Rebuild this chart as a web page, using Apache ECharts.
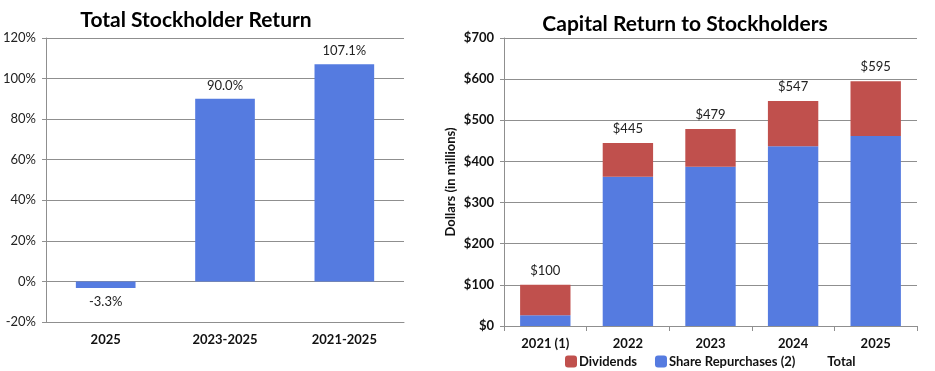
<!DOCTYPE html>
<html>
<head>
<meta charset="utf-8">
<script src="https://cdn.jsdelivr.net/npm/echarts@6/dist/echarts.min.js"></script>
<style>
html,body{margin:0;padding:0;background:#fff;}
#c{width:935px;height:371px;}
</style>
</head>
<body>
<div id="c"></div>
<script>
// Left chart data
var tsrCategories = ['2025', '2023-2025', '2021-2025'];
var tsrValues = [-3.3, 90.0, 107.1];
var tsrTicks = [-20, 0, 20, 40, 60, 80, 100, 120];

// Right chart data
var capCategories = ['2021 (1)', '2022', '2023', '2024', '2025'];
var dividends = [74, 82, 92, 110, 133];
var repurchases = [26, 363, 387, 437, 462];
var totals = [100, 445, 479, 547, 595];
var capTicks = [0, 100, 200, 300, 400, 500, 600, 700];

var FONT = 'Lato, "Noto Sans", sans-serif';
var BLUE = '#557BE0';
var RED = '#C0504D';
var GRID = '#8f8f8f';

var chart = echarts.init(document.getElementById('c'), null, {renderer: 'canvas'});
chart.setOption({
  animation: false,
  textStyle: {fontFamily: FONT},
  title: [
    {text: 'Total Stockholder Return', left: 191, top: 5, textAlign: 'center',
     textStyle: {fontFamily: FONT, fontSize: 21, fontWeight: 'bold', color: '#000'}},
    {text: 'Capital Return to Stockholders', left: 680, top: 9, textAlign: 'center',
     textStyle: {fontFamily: FONT, fontSize: 21, fontWeight: 'bold', color: '#000'}}
  ],
  legend: {
    left: 560, top: 350,
    itemWidth: 12, itemHeight: 12, itemGap: 18,
    textStyle: {fontFamily: FONT, fontSize: 13, fontWeight: 'bold', color: '#111', padding: [0,0,0,-3]},
    data: [
      {name: 'Dividends', itemStyle: {color: RED}},
      {name: 'Share Repurchases (2)', itemStyle: {color: BLUE}},
      {name: 'Total', itemStyle: {color: 'rgba(0,0,0,0)'}}
    ]
  },
  grid: [
    {left: 46, top: 38, width: 358, height: 284},
    {left: 504, top: 38, width: 413, height: 288}
  ],
  xAxis: [
    {type: 'category', gridIndex: 0, data: tsrCategories,
     axisLine: {onZero: false, lineStyle: {color: GRID}},
     axisTick: {show: false},
     axisLabel: {margin: 11, fontFamily: FONT, fontSize: 13, fontWeight: 'bold', color: '#111'}},
    {type: 'category', gridIndex: 1, data: capCategories,
     axisLine: {lineStyle: {color: GRID}},
     axisTick: {show: true, length: 5, lineStyle: {color: GRID}},
     axisLabel: {margin: 11, fontFamily: FONT, fontSize: 13, fontWeight: 'bold', color: '#111'}}
  ],
  yAxis: [
    {type: 'value', gridIndex: 0, min: tsrTicks[0], max: tsrTicks[tsrTicks.length-1], interval: 20,
     axisLine: {show: true, lineStyle: {color: GRID}},
     axisTick: {show: true, length: 4, lineStyle: {color: GRID}},
     splitLine: {lineStyle: {color: GRID}},
     axisLabel: {margin: 10, fontFamily: FONT, fontSize: 13, color: '#222', formatter: '{value}%'}},
    {type: 'value', gridIndex: 1, min: capTicks[0], max: capTicks[capTicks.length-1], interval: 100,
     name: 'Dollars (in millions)', nameLocation: 'middle', nameGap: 47, nameRotate: 90,
     nameTextStyle: {fontFamily: FONT, fontSize: 13, fontWeight: 'bold', color: '#111'},
     axisLine: {show: true, lineStyle: {color: GRID}},
     axisTick: {show: true, length: 4, lineStyle: {color: GRID}},
     splitLine: {lineStyle: {color: GRID}},
     axisLabel: {margin: 10, fontFamily: FONT, fontSize: 13, fontWeight: 'bold', color: '#111', formatter: '${value}'}}
  ],
  series: [
    {type: 'bar', name: 'TSR', xAxisIndex: 0, yAxisIndex: 0, data: tsrValues,
     barWidth: '50%', itemStyle: {color: BLUE},
     label: {show: true, position: 'outside', distance: 7, fontFamily: FONT, fontSize: 13, color: '#222',
       formatter: function(p){ return p.value.toFixed(1) + '%'; }}},
    {type: 'bar', name: 'Share Repurchases (2)', xAxisIndex: 1, yAxisIndex: 1, stack: 'cap',
     data: repurchases, barWidth: '61%', barGap: '-100%', itemStyle: {color: BLUE}},
    {type: 'bar', name: 'Dividends', xAxisIndex: 1, yAxisIndex: 1, stack: 'cap',
     data: dividends, barWidth: '61%', itemStyle: {color: RED}},
    {type: 'bar', name: 'Total', xAxisIndex: 1, yAxisIndex: 1, data: totals,
     barWidth: '61%', barGap: '-100%', z: 1, itemStyle: {color: 'rgba(0,0,0,0)'},
     label: {show: true, position: 'top', distance: 8, fontFamily: FONT, fontSize: 13, color: '#222',
       formatter: function(p){ return '$' + p.value; }}}
  ]
});
</script>
</body>
</html>
